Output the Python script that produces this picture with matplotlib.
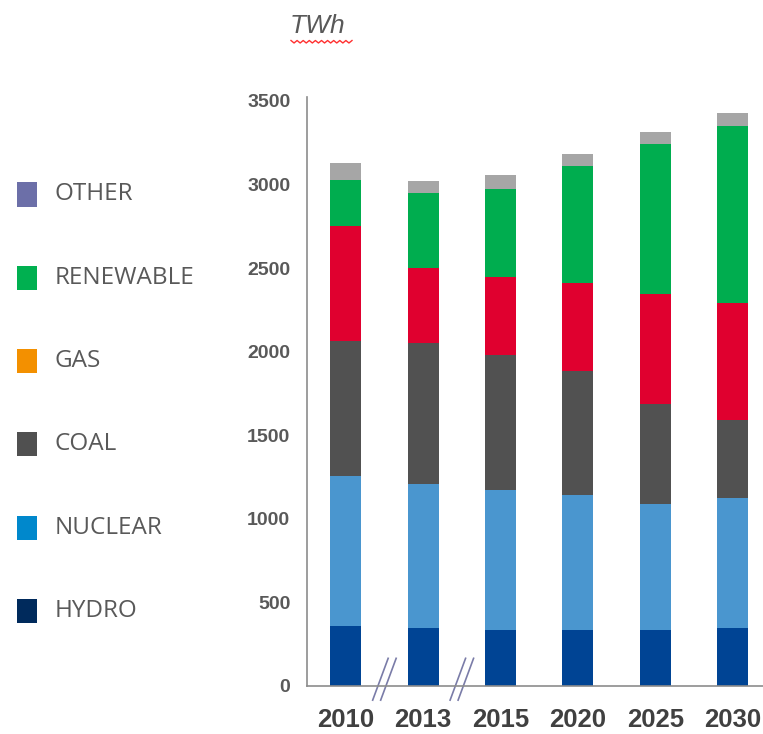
import matplotlib.pyplot as plt
from matplotlib.patches import Rectangle
from matplotlib.transforms import offset_copy
import numpy as np

years = ['2010', '2013', '2015', '2020', '2025', '2030']

# TWh per source, bottom to top of each bar
hydro = [359, 347, 337, 337, 337, 347]
nuclear = [899, 859, 835, 805, 753, 776]
coal = [804, 844, 806, 742, 597, 468]
gas = [689, 452, 470, 524, 657, 702]
renewable = [275, 448, 523, 702, 899, 1054]
other = [102, 72, 85, 70, 72, 80]

series = [hydro, nuclear, coal, gas, renewable, other]
bar_colors = ['#004494', '#4a96cf', '#515151', '#e0002f', '#00ad4f', '#a6a6a6']

legend_labels = ['OTHER', 'RENEWABLE', 'GAS', 'COAL', 'NUCLEAR', 'HYDRO']
legend_colors = ['#6c6fa8', '#00b050', '#f39000', '#505050', '#0088cc', '#002a5c']

W, H = 763, 734
fig = plt.figure(figsize=(W / 100, H / 100), dpi=100)
ax = fig.add_axes([307 / W, (H - 686) / H, 456 / W, 589 / H])

x = np.arange(len(years))
bottom = np.zeros(len(years))
for vals, col in zip(series, bar_colors):
    ax.bar(x, vals, width=0.4, bottom=bottom, color=col, edgecolor='none')
    bottom += np.array(vals)

ax.set_xlim(-0.5, 5.39)
ax.set_ylim(0, 3523)
ax.set_yticks(np.arange(0, 3501, 500))
ax.set_xticks(x)
ax.set_xticklabels(years)
for s in ['top', 'right']:
    ax.spines[s].set_visible(False)
for s in ['left', 'bottom']:
    ax.spines[s].set_color('#8c8c8c')
    ax.spines[s].set_linewidth(1.2)
ax.tick_params(axis='y', length=0, pad=12, labelsize=14, labelcolor='#595959')
ax.tick_params(axis='x', length=0, pad=16, labelsize=18.5, labelcolor='#404040')
for lab in ax.get_yticklabels() + ax.get_xticklabels():
    lab.set_fontweight('bold')
    lab.set_fontfamily('Liberation Sans')

# axis break marks between 2010-2013 and 2013-2015
for xb in [0.5, 1.5]:
    for dx in [-4, 4]:
        tr = offset_copy(ax.get_xaxis_transform(), fig=fig, x=dx * 0.72, y=0, units='points')
        ax.plot([xb - 0.1, xb + 0.1], [-0.024, 0.047], transform=tr,
                color='#7a7ca8', lw=1.2, clip_on=False)

# legend drawn at the left side
for i, (lab, col) in enumerate(zip(legend_labels, legend_colors)):
    yc = 194.5 + i * 83.3
    fig.patches.append(Rectangle((17 / W, (H - yc - 12) / H), 20 / W, 24 / H,
                                 transform=fig.transFigure, facecolor=col,
                                 edgecolor='none'))
    fig.text(55 / W, (H - yc) / H, lab, fontsize=17.5, color='#595959',
             family='Open Sans', va='center', ha='left')

# unit label with its squiggly underline
fig.text(290 / W, (H - 26) / H, 'TWh', fontsize=19, color='#595959',
         style='italic', family='Liberation Sans', va='center', ha='left')
zx = np.linspace(291, 352, 21)
zy = np.where(np.arange(21) % 2 == 0, 40.5, 43)
fig.add_artist(plt.Line2D(zx / W, (H - zy) / H, color='#ff3030', lw=1.0))

fig.savefig('out.png', dpi=100)
